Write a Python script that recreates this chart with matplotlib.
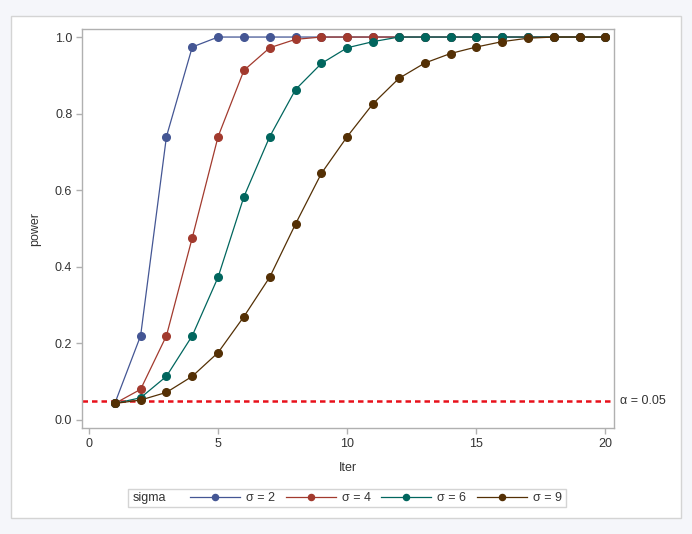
import numpy as np
import matplotlib
matplotlib.use("Agg")
import matplotlib.pyplot as plt
from matplotlib.patches import Rectangle

plt.rcParams['font.family'] = ['Liberation Sans', 'DejaVu Sans']

iters = list(range(1, 21))
power_s2 = [0.043, 0.22, 0.74, 0.974, 1.0, 1.0, 1.0, 1.0, 1.0, 1.0,
            1.0, 1.0, 1.0, 1.0, 1.0, 1.0, 1.0, 1.0, 1.0, 1.0]
power_s4 = [0.043, 0.08, 0.22, 0.476, 0.74, 0.913, 0.972, 0.994, 1.0, 1.0,
            1.0, 1.0, 1.0, 1.0, 1.0, 1.0, 1.0, 1.0, 1.0, 1.0]
power_s6 = [0.043, 0.058, 0.114, 0.22, 0.373, 0.583, 0.74, 0.863, 0.931, 0.972,
            0.988, 1.0, 1.0, 1.0, 1.0, 1.0, 1.0, 1.0, 1.0, 1.0]
power_s9 = [0.043, 0.052, 0.072, 0.114, 0.176, 0.27, 0.373, 0.512, 0.644, 0.74,
            0.826, 0.892, 0.932, 0.957, 0.974, 0.988, 0.997, 1.0, 1.0, 1.0]
labels = ["\u03c3 = 2", "\u03c3 = 4", "\u03c3 = 6", "\u03c3 = 9"]
colors = ["#445694", "#A23A2E", "#01665E", "#543005"]
alpha_level = 0.05

W, H = 692, 534
fs = 9
fig = plt.figure(figsize=(W / 100, H / 100), dpi=100, facecolor="#f5f6fa")

# outer white panel
fig.patches.append(Rectangle((11 / W, 1 - 518 / H), (681 - 11) / W, (518 - 16) / H,
                             transform=fig.transFigure, facecolor="white",
                             edgecolor="#d4d4d4", lw=1, zorder=-5))

ax = fig.add_axes([82 / W, 1 - 428 / H, (614 - 82) / W, (428 - 29) / H])
ax.set_zorder(2)
series = [power_s2, power_s4, power_s6, power_s9]
handles = []
for vals, lab, c in zip(series, labels, colors):
    h, = ax.plot(iters, vals, color=c, lw=0.9, marker="o", markersize=5.5,
                 markerfacecolor=c, markeredgecolor=c, label=lab, zorder=3)
    handles.append(h)

ax.axhline(alpha_level, color="#e8101a", lw=1.8, ls=(0, (2.2, 1.6)), zorder=2)
ax.text(20.55, alpha_level, "\u03b1 = 0.05", va="center", ha="left",
        fontsize=fs, color="#333333", clip_on=False)

ax.set_xlim(-0.27, 20.33)
ax.set_ylim(-0.021, 1.021)
ax.set_xticks([0, 5, 10, 15, 20])
ax.set_yticks([0.0, 0.2, 0.4, 0.6, 0.8, 1.0])
ax.set_yticklabels(["0.0", "0.2", "0.4", "0.6", "0.8", "1.0"])
ax.tick_params(direction="out", length=4, width=1, color="#b0b0b0",
               labelsize=fs, labelcolor="#333333", pad=3)
for s in ax.spines.values():
    s.set_color("#b0b0b0")
    s.set_linewidth(1)
ax.set_xlabel("Iter", fontsize=fs, color="#333333", labelpad=9)
ax.set_ylabel("power", fontsize=fs, color="#333333", labelpad=10)

# legend box
fig.patches.append(Rectangle((128 / W, 1 - 507 / H), (566 - 128) / W, (507 - 489) / H,
                             transform=fig.transFigure, facecolor="white",
                             edgecolor="#d4d4d4", lw=1, zorder=1))
fig.text(133 / W, 1 - 498 / H, "sigma", fontsize=fs, color="#333333",
         va="center", ha="left")
fig.legend(handles=handles, labels=labels, loc="center left",
           bbox_to_anchor=(190 / W, 1 - 498 / H), ncol=4, frameon=False,
           fontsize=fs, handlelength=4.0, handletextpad=0.5,
           columnspacing=0.82, borderpad=0, borderaxespad=0,
           markerscale=0.8, labelcolor="#333333")

fig.savefig("out.png", dpi=100, facecolor=fig.get_facecolor())
